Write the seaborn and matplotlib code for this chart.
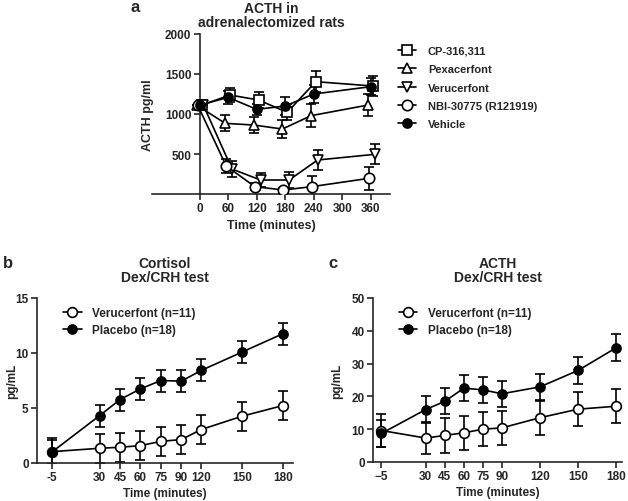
import numpy as np
import matplotlib
matplotlib.use("Agg")
import matplotlib.pyplot as plt
from matplotlib.lines import Line2D
import seaborn as sns

# ---- panel a: ACTH in adrenalectomized rats ----
a_time = [0, 60, 120, 180, 240, 360]
cp_mean = [1110, 1237, 1175, 1020, 1404, 1350]
cp_sem = [0, 90, 95, 100, 130, 125]
pexa_mean = [1110, 883, 862, 812, 979, 1112]
pexa_sem = [0, 100, 96, 110, 140, 133]
veru_a_mean = [1110, 312, 175, 175, 425, 496]
veru_a_sem = [0, 100, 85, 95, 125, 125]
nbi_mean = [1110, 350, 92, 50, 92, 196]
nbi_sem = [0, 90, 40, 30, 130, 145]
veh_mean = [1110, 1208, 1058, 1100, 1250, 1342]
veh_sem = [0, 80, 70, 110, 110, 110]

# ---- panels b and c: Dex/CRH test ----
dex_time = [-5, 30, 45, 60, 75, 90, 120, 150, 180]
cort_veru = [1.03, 1.34, 1.43, 1.58, 1.97, 2.13, 3.04, 4.25, 5.22]
cort_veru_sem = [1.2, 1.3, 1.3, 1.3, 1.3, 1.3, 1.3, 1.3, 1.3]
cort_plac = [1.0, 4.31, 5.77, 6.74, 7.5, 7.44, 8.41, 10.08, 11.75]
cort_plac_sem = [1.1, 1.0, 1.0, 1.0, 1.0, 1.0, 1.0, 1.0, 1.0]
acth_veru = [9.6, 7.3, 8.1, 8.9, 10.0, 10.4, 13.5, 16.1, 17.0]
acth_veru_sem = [5.1, 4.9, 5.3, 5.2, 5.1, 5.2, 5.2, 5.1, 5.2]
acth_plac = [8.7, 16.0, 18.5, 22.5, 22.0, 20.8, 22.9, 27.9, 34.8]
acth_plac_sem = [4.0, 4.0, 4.0, 3.9, 3.9, 4.0, 3.9, 4.0, 4.1]

sns.set_style("ticks")
plt.rcParams['font.family'] = ['Liberation Sans', 'DejaVu Sans']
plt.rcParams['font.weight'] = 'bold'
plt.rcParams['axes.labelweight'] = 'bold'
plt.rcParams['axes.linewidth'] = 1.2

LW = 1.2


def series(ax, x, y, err, marker, fill, ms, label):
    ax.errorbar(x, y, yerr=err, fmt='none', ecolor='black', elinewidth=LW,
                capsize=3.5, capthick=LW, zorder=2)
    sns.lineplot(x=x, y=y, ax=ax, color='black', linewidth=LW, marker=marker,
                 markersize=ms, markerfacecolor=fill, markeredgecolor='black',
                 markeredgewidth=LW, label=label, legend=False, zorder=3)
    return Line2D([], [], color='black', linewidth=LW, marker=marker,
                  markersize=ms, markerfacecolor=fill, markeredgecolor='black',
                  markeredgewidth=LW, label=label)


def style_ticks(ax):
    ax.tick_params(direction='out', length=4, width=LW, labelsize=8.5, pad=2)
    for lab in ax.get_xticklabels() + ax.get_yticklabels():
        lab.set_fontweight('bold')


fig = plt.figure(figsize=(6.28, 5.02), dpi=100)

# panel a
ax_a = fig.add_axes([152 / 628, 1 - 195 / 502, 238 / 628, 160 / 502])
a_series = [
    (cp_mean, cp_sem, 's', 'white', 7, 'CP-316,311', 4),
    (pexa_mean, pexa_sem, '^', 'white', 7.5, 'Pexacerfont', -6),
    (veru_a_mean, veru_a_sem, 'v', 'white', 7.5, 'Verucerfont', 8),
    (nbi_mean, nbi_sem, 'o', 'white', 7.5, 'NBI-30775 (R121919)', -4),
    (veh_mean, veh_sem, 'o', 'black', 6.5, 'Vehicle', 0),
]
handles_a = []
for mean, sem, mk, fc, ms, lab, off in a_series:
    xs = np.array(a_time) + off
    handles_a.append(series(ax_a, xs, mean, sem, mk, fc, ms, lab))
ax_a.set_xlim(-100, 400)
ax_a.set_ylim(0, 2000)
ax_a.set_xticks([0, 60, 120, 180, 240, 300, 360])
ax_a.set_yticks([500, 1000, 1500, 2000])
sns.despine(ax=ax_a)
ax_a.spines['left'].set_position(('data', 0))
ax_a.spines['bottom'].set_bounds(-100, 400)
style_ticks(ax_a)
ax_a.set_xlabel('Time (minutes)', fontsize=9, labelpad=3)
ax_a.set_ylabel('ACTH pg/ml', fontsize=9)
ax_a.yaxis.set_label_coords(0.008, 0.5)
ax_a.set_title('ACTH in\nadrenalectomized rats', fontsize=10, fontweight='bold',
               pad=6, linespacing=1.0)
fig.legend(handles=handles_a, loc='upper left', bbox_to_anchor=(388 / 628, 1 - 37 / 502),
           frameon=False, handlelength=1.6, handletextpad=1.1,
           labelspacing=0.75, prop={'weight': 'bold', 'size': 8})
fig.text(135 / 628, 1 - 8 / 502, 'a', fontsize=12, fontweight='bold', va='center', ha='center')


# panel b: x axis drawn with 90-120 compressed as in the source figure
def fwd(t):
    return np.interp(t, [-50, 90, 120, 250], [-50, 90, 104.5, 234.5])


def inv(p):
    return np.interp(p, [-50, 90, 104.5, 234.5], [-50, 90, 120, 250])


ax_b = fig.add_axes([37 / 628, 1 - 464 / 502, 256 / 628, 165 / 502])
ax_b.set_xscale('function', functions=(fwd, inv))
hb = [series(ax_b, dex_time, cort_veru, cort_veru_sem, 'o', 'white', 7, 'Verucerfont (n=11)'),
      series(ax_b, dex_time, cort_plac, cort_plac_sem, 'o', 'black', 6.5, 'Placebo (n=18)')]
ax_b.set_xlim(-16, 187.5)
ax_b.set_ylim(0, 15)
ax_b.set_xticks(dex_time)
ax_b.set_xticklabels([str(t) for t in dex_time])
ax_b.set_yticks([0, 5, 10, 15])
ax_b.xaxis.set_minor_locator(matplotlib.ticker.NullLocator())
sns.despine(ax=ax_b)
style_ticks(ax_b)
ax_b.set_xlabel('Time (minutes)', fontsize=8.5, labelpad=3)
ax_b.set_ylabel('pg/mL', fontsize=8.5)
ax_b.yaxis.set_label_coords(-0.072, 0.5)
ax_b.set_title('Cortisol\nDex/CRH test', fontsize=10, fontweight='bold', pad=12, linespacing=1.0)
ax_b.legend(handles=hb, loc='upper left', bbox_to_anchor=(0.06, 1.01), frameon=False,
            handlelength=1.6, handletextpad=0.9, labelspacing=0.45,
            prop={'weight': 'bold', 'size': 8.5})
fig.text(8 / 628, 1 - 263 / 502, 'b', fontsize=12, fontweight='bold', va='center', ha='center')

# panel c
ax_c = fig.add_axes([373 / 628, 1 - 463 / 502, 249 / 628, 164 / 502])
hc = [series(ax_c, dex_time, acth_veru, acth_veru_sem, 'o', 'white', 7, 'Verucerfont (n=11)'),
      series(ax_c, dex_time, acth_plac, acth_plac_sem, 'o', 'black', 6.5, 'Placebo (n=18)')]
ax_c.set_xlim(-11.6, 184.7)
ax_c.set_ylim(0, 50)
ax_c.set_xticks(dex_time)
ax_c.set_yticks([0, 10, 20, 30, 40, 50])
sns.despine(ax=ax_c)
style_ticks(ax_c)
ax_c.set_xlabel('Time (minutes)', fontsize=8.5, labelpad=3)
ax_c.set_ylabel('pg/mL', fontsize=8.5)
ax_c.yaxis.set_label_coords(-0.12, 0.5)
ax_c.set_title('ACTH\nDex/CRH test', fontsize=10, fontweight='bold', pad=12, linespacing=1.0)
ax_c.legend(handles=hc, loc='upper left', bbox_to_anchor=(0.06, 1.01), frameon=False,
            handlelength=1.6, handletextpad=0.9, labelspacing=0.45,
            prop={'weight': 'bold', 'size': 8.5})
fig.text(333 / 628, 1 - 263 / 502, 'c', fontsize=12, fontweight='bold', va='center', ha='center')

fig.savefig('out.png', dpi=100)
